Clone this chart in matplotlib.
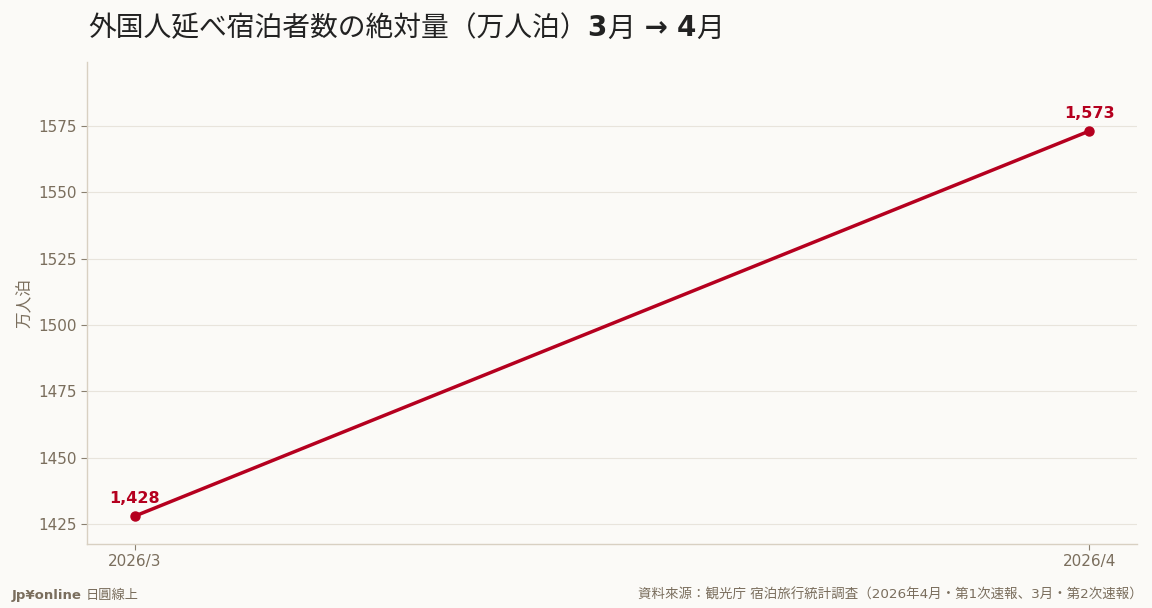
import matplotlib
matplotlib.use("Agg")
import matplotlib.pyplot as plt

months = ["2026/3", "2026/4"]
values = [1428, 1573]
value_labels = ["1,428", "1,573"]
yticks = [1425, 1450, 1475, 1500, 1525, 1550, 1575]

CJK = ["Noto Sans CJK JP", "DejaVu Sans"]
plt.rcParams["font.family"] = CJK

BG = "#fbfaf7"
RED = "#b5001f"
TXT = "#7a6e5d"
SPINE = "#d8d0c2"
GRID = "#e8e4dc"

fig = plt.figure(figsize=(11.52, 6.08), dpi=100, facecolor=BG)
ax = fig.add_axes([87/1152, 1-544/608, (1137-87)/1152, (544-62)/608])
ax.set_facecolor(BG)

x = list(range(len(months)))
ax.plot(x, values, color=RED, lw=2.5, marker="o", ms=6.5, zorder=3)
for xi, v, lab in zip(x, values, value_labels):
    ax.annotate(lab, (xi, v), xytext=(0, 7), textcoords="offset points",
                ha="center", va="bottom", color=RED, fontsize=11.5,
                fontweight="bold", family=["DejaVu Sans"])

ax.set_xticks(x)
ax.set_xticklabels(months)
ax.set_xlim(-0.05, 1.05)
ax.set_yticks(yticks)
ax.set_ylim(1417.5, 1599)
ax.grid(axis="y", color=GRID, lw=0.8)
ax.set_axisbelow(True)
for s in ["top", "right"]:
    ax.spines[s].set_visible(False)
for s in ["left", "bottom"]:
    ax.spines[s].set_color(SPINE)
    ax.spines[s].set_linewidth(1)
ax.tick_params(colors=TXT, labelsize=11, length=4, width=0.8)
ax.tick_params(axis="both", color="#8a8070")
for lab in ax.get_xticklabels() + ax.get_yticklabels():
    lab.set_family(["DejaVu Sans"])
ax.set_ylabel("万人泊", color=TXT, fontsize=12, labelpad=3)

# Title in pieces: CJK regular, digits/arrow bold
title_parts = [
    ("外国人延べ宿泊者数の絶対量（万人泊）", "normal", ["Noto Sans CJK JP", "DejaVu Sans"]),
    ("3", "bold", ["DejaVu Sans"]),
    ("月", "normal", ["Noto Sans CJK JP"]),
    (" → ", "bold", ["DejaVu Sans"]),
    ("4", "bold", ["DejaVu Sans"]),
    ("月", "normal", ["Noto Sans CJK JP"]),
]
renderer = fig.canvas.get_renderer()
xpos = 88
for txt, w, fam in title_parts:
    t = fig.text(xpos/1152, 1-25/608, txt, fontsize=20, fontweight=w,
                 color="#222222", va="center_baseline", ha="left", family=fam)
    bb = t.get_window_extent(renderer=renderer)
    xpos = bb.x1

fig.text(12/1152, 1-595/608, "Jp¥online", fontsize=9.5, fontweight="bold",
         color=TXT, va="center", ha="left", family=["DejaVu Sans"])
fig.text(86/1152, 1-595/608, "日圓線上", fontsize=9.5,
         color=TXT, va="center", ha="left")
fig.text(1143/1152, 1-595/608, "資料來源：観光庁 宿泊旅行統計調査（2026年4月・第1次速報、3月・第2次速報）",
         fontsize=9.7, color=TXT, va="center", ha="right",
         family=["DejaVu Sans", "Noto Sans CJK JP"])

fig.savefig("out.png", dpi=100, facecolor=BG)
